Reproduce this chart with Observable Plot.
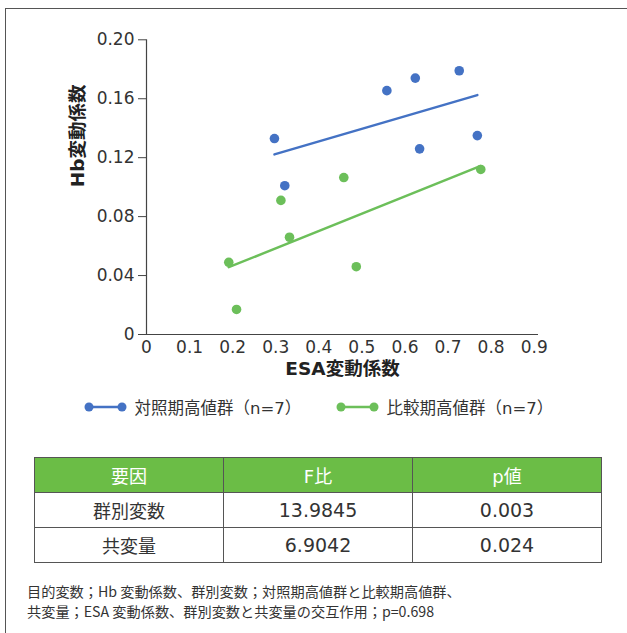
<!DOCTYPE html>
<html>
<head>
<meta charset="utf-8">
<script src="https://cdn.jsdelivr.net/npm/d3@7"></script>
<script src="https://cdn.jsdelivr.net/npm/@observablehq/plot@0.6"></script>
<style>
  body { margin: 0; width: 627px; height: 633px; overflow: hidden; background: #fff; position: relative;
         font-family: "DejaVu Sans", "Noto Sans CJK JP", sans-serif; color: #333; }
  #frame { position: absolute; left: 5px; top: 8px; width: 700px; height: 700px; border: 1.5px solid #555; box-sizing: border-box; }
  #chart { position: absolute; left: 0; top: 0; }
  .legend-item { position: absolute; top: 396px; height: 22px; display: flex; align-items: center; font-size: 16.5px; color: #333; white-space: nowrap; }
  .legend-item svg { margin-right: 8px; }
  table { position: absolute; left: 34px; top: 457px; width: 568px; border-collapse: collapse; border: 1.5px solid #444; table-layout: fixed; }
  th, td { height: 34px; padding: 0; border: 1px solid #555; text-align: center; font-size: 18px; font-weight: normal; color: #333; }
  td.num { font-size: 19px; }
  th { background: #6bbd46; color: #fff; }
  .note { position: absolute; left: 27px; top: 581px; font-family: "Noto Sans CJK JP", sans-serif; font-size: 14.2px; line-height: 20px; color: #333; white-space: nowrap; }
</style>
</head>
<body>
<div id="frame"></div>
<div id="chart"></div>
<div id="legend"></div>
<div id="table"></div>
<div class="note" id="note"></div>
<script>
// Series names and colours
const seriesNames = ["対照期高値群（n=7）", "比較期高値群（n=7）"];
const seriesColors = ["#4472c4", "#6cbf5a"];

// 対照期高値群: ESA変動係数 (x) and Hb変動係数 (y)
const ctrlX = [0.297, 0.321, 0.558, 0.624, 0.726, 0.634, 0.768];
const ctrlY = [0.133, 0.101, 0.1655, 0.174, 0.179, 0.126, 0.135];

// 比較期高値群
const compX = [0.191, 0.209, 0.312, 0.332, 0.458, 0.487, 0.776];
const compY = [0.049, 0.017, 0.091, 0.066, 0.1065, 0.046, 0.112];

// Axis ticks
const xTicks = [0, 0.1, 0.2, 0.3, 0.4, 0.5, 0.6, 0.7, 0.8, 0.9];
const yTicks = [0, 0.04, 0.08, 0.12, 0.16, 0.20];

// Axis titles
const xTitle = "ESA変動係数";
const yTitle = "Hb変動係数";

// ANCOVA table
const tableHeaders = ["要因", "F比", "p値"];
const factors = ["群別変数", "共変量"];
const fRatios = ["13.9845", "6.9042"];
const pValues = ["0.003", "0.024"];

// Footnote lines
const noteLines = [
  "目的変数；Hb 変動係数、群別変数；対照期高値群と比較期高値群、",
  "共変量；ESA 変動係数、群別変数と共変量の交互作用；p=0.698"
];

const points = [
  ...ctrlX.map((x, i) => ({x, y: ctrlY[i], group: seriesNames[0]})),
  ...compX.map((x, i) => ({x, y: compY[i], group: seriesNames[1]}))
];

const ink = "#333";
const fontFamily = '"DejaVu Sans", "Noto Sans CJK JP", sans-serif';

const chart = Plot.plot({
  width: 627,
  height: 390,
  marginLeft: 146,
  marginRight: 89,
  marginTop: 39.3,
  marginBottom: 56,
  style: { fontFamily, fontSize: "17px", color: ink, background: "transparent" },
  x: { domain: [0, 0.91] },
  y: { domain: [0, 0.2] },
  color: { domain: seriesNames, range: seriesColors },
  marks: [
    Plot.axisX({ ticks: xTicks, tickSize: 0, tickPadding: 6, label: null,
                 tickFormat: d => d === 0 ? "0" : d3.format(".1f")(d), fontSize: 17, fill: ink }),
    Plot.axisY({ ticks: yTicks, tickSize: 8, tickPadding: 4, label: null, stroke: "#444",
                 tickFormat: d => d === 0 ? "0" : d3.format(".2f")(d), fontSize: 17, fill: ink }),
    Plot.ruleX([0], { y1: 0, y2: 0.2, stroke: "#444", strokeWidth: 1.2 }),
    Plot.ruleY([0], { stroke: "#444", strokeWidth: 1.2 }),
    Plot.linearRegressionY(points, { x: "x", y: "y", stroke: "group", ci: 0, strokeWidth: 2.5 }),
    Plot.dot(points, { x: "x", y: "y", fill: "group", r: 4.8 }),
    Plot.text([yTitle], { frameAnchor: "left", dx: -68, rotate: -90, fontSize: 18.5, fontWeight: "bold", fill: "#222" }),
    Plot.text([xTitle], { frameAnchor: "bottom", dy: 40, fontSize: 18.5, fontWeight: "bold", fill: "#222" })
  ]
});
document.getElementById("chart").appendChild(chart);

// Legend
const legendLeft = [83.5, 335.5];
const legend = document.getElementById("legend");
seriesNames.forEach((name, i) => {
  const item = document.createElement("div");
  item.className = "legend-item";
  item.style.left = legendLeft[i] + "px";
  const c = seriesColors[i];
  item.innerHTML = `<svg width="43" height="12"><line x1="5" y1="6" x2="38" y2="6" stroke="${c}" stroke-width="2.5"/>` +
    `<circle cx="5" cy="6" r="4.5" fill="${c}"/><circle cx="38" cy="6" r="4.5" fill="${c}"/></svg><span>${name}</span>`;
  legend.appendChild(item);
});

// Table
const rows = factors.map((f, i) => [f, fRatios[i], pValues[i]]);
document.getElementById("table").innerHTML =
  "<table><tr>" + tableHeaders.map(h => `<th>${h}</th>`).join("") + "</tr>" +
  rows.map(r => "<tr>" + r.map((v, j) => `<td${j > 0 ? ' class="num"' : ""}>${v}</td>`).join("") + "</tr>").join("") + "</table>";

// Footnote
document.getElementById("note").innerHTML = noteLines.join("<br>");
</script>
</body>
</html>
